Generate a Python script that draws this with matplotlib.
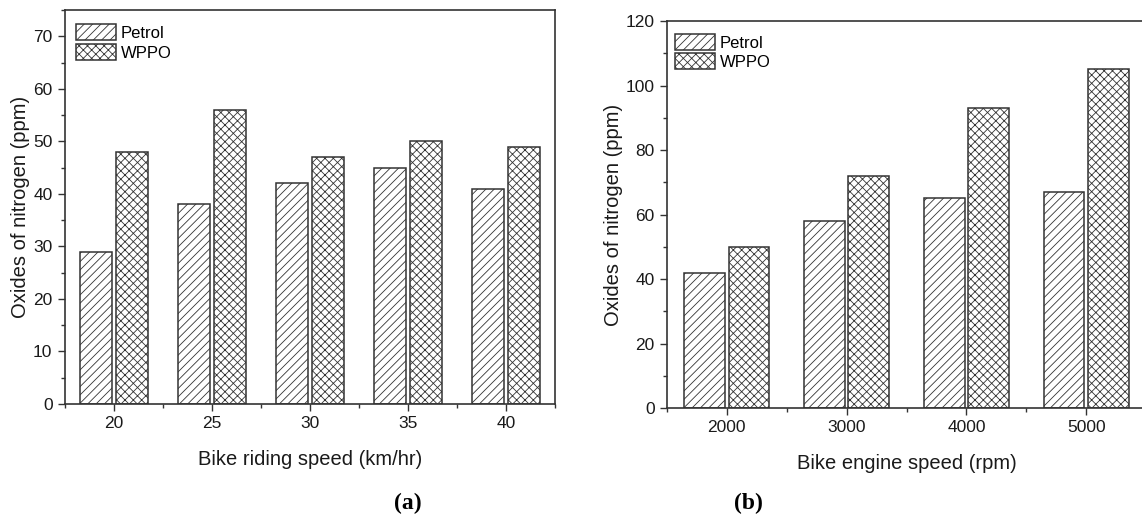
import matplotlib
matplotlib.use("Agg")
import matplotlib.pyplot as plt
import numpy as np
from matplotlib.ticker import MultipleLocator

# Data
speed_a = [20, 25, 30, 35, 40]
petrol_a = [29, 38, 42, 45, 41]
wppo_a = [48, 56, 47, 50, 49]

speed_b = [2000, 3000, 4000, 5000]
petrol_b = [42, 58, 65, 67]
wppo_b = [50, 72, 93, 105]

series_labels = ["Petrol", "WPPO"]
ylabel = "Oxides of nitrogen (ppm)"
xlabel_a = "Bike riding speed (km/hr)"
xlabel_b = "Bike engine speed (rpm)"

plt.rcParams['font.family'] = ['Liberation Sans', 'DejaVu Sans']
plt.rcParams['hatch.linewidth'] = 0.6
plt.rcParams['hatch.color'] = '#444444'

W, H = 1142, 515
fig = plt.figure(figsize=(W / 100, H / 100), dpi=100)

edge = '#333333'
txt = '#1a1a1a'


def px_axes(x0, y0, x1, y1):
    return fig.add_axes([x0 / W, 1 - y1 / H, (x1 - x0) / W, (y1 - y0) / H])


def style(ax):
    for s in ax.spines.values():
        s.set_linewidth(1.2)
        s.set_color(edge)
    ax.tick_params(which='major', direction='out', length=5, width=1.0,
                   color=edge, labelsize=12.5, labelcolor=txt, pad=4)
    ax.tick_params(which='minor', direction='out', length=3, width=1.0, color=edge)
    ax.tick_params(top=False, right=False, which='both')


# Panel (a)
ax1 = px_axes(65, 10, 555, 404)
x = np.array(speed_a, dtype=float)
ax1.bar(x - 0.92, petrol_a, width=1.68, facecolor='white', edgecolor=edge,
        linewidth=1.1, hatch='////', label=series_labels[0])
ax1.bar(x + 0.92, wppo_a, width=1.68, facecolor='white', edgecolor=edge,
        linewidth=1.1, hatch='xxxx', label=series_labels[1])
ax1.set_xlim(17.5, 42.5)
ax1.set_ylim(0, 75)
ax1.set_xticks(speed_a)
ax1.xaxis.set_minor_locator(MultipleLocator(2.5))
ax1.set_yticks(np.arange(0, 71, 10))
ax1.yaxis.set_minor_locator(MultipleLocator(5))
style(ax1)
ax1.set_xlabel(xlabel_a, fontsize=14.5, color=txt, labelpad=13)
ax1.set_ylabel(ylabel, fontsize=14.5, color=txt, labelpad=2.5)
ax1.legend(loc='upper left', bbox_to_anchor=(11 / 490, 1 - 14 / 394), frameon=False,
           fontsize=12, handlelength=2.4, handleheight=1.1, labelspacing=0.2,
           handletextpad=0.3, borderpad=0, borderaxespad=0)

# Panel (b)
ax2 = px_axes(667, 21, 1146, 408)
xb = np.array(speed_b, dtype=float)
ax2.bar(xb - 185, petrol_b, width=340, facecolor='white', edgecolor=edge,
        linewidth=1.1, hatch='////', label=series_labels[0])
ax2.bar(xb + 185, wppo_b, width=340, facecolor='white', edgecolor=edge,
        linewidth=1.1, hatch='xxxx', label=series_labels[1])
ax2.set_xlim(1500, 5500)
ax2.set_ylim(0, 120)
ax2.set_xticks(speed_b)
ax2.xaxis.set_minor_locator(MultipleLocator(500))
ax2.set_yticks(np.arange(0, 121, 20))
ax2.yaxis.set_minor_locator(MultipleLocator(10))
style(ax2)
ax2.set_xlabel(xlabel_b, fontsize=14.5, color=txt, labelpad=13)
ax2.set_ylabel(ylabel, fontsize=14.5, color=txt, labelpad=1.5)
ax2.legend(loc='upper left', bbox_to_anchor=(8 / 479, 1 - 13 / 387), frameon=False,
           fontsize=12, handlelength=2.4, handleheight=1.1, labelspacing=0.15,
           handletextpad=0.3, borderpad=0, borderaxespad=0)

fig.text(408 / W, 1 - 503 / H, "(a)", ha='center', va='center', fontsize=17,
         fontweight='bold', color='black', family=['Liberation Serif', 'DejaVu Serif'])
fig.text(748 / W, 1 - 503 / H, "(b)", ha='center', va='center', fontsize=17,
         fontweight='bold', color='black', family=['Liberation Serif', 'DejaVu Serif'])

fig.savefig("out.png", dpi=100)
